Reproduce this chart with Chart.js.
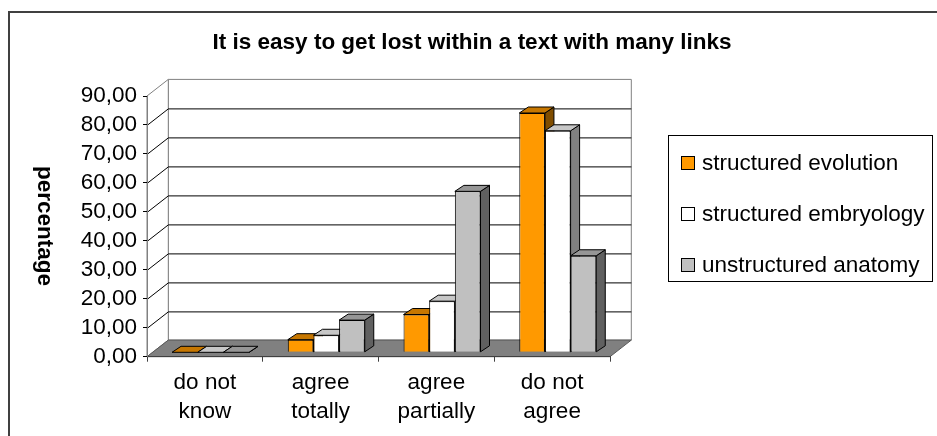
<!DOCTYPE html>
<html>
<head>
<meta charset="utf-8">
<script src="https://cdn.jsdelivr.net/npm/chart.js@4/dist/chart.umd.min.js"></script>
<style>
  html, body { margin: 0; padding: 0; background: #fff; }
  #wrap { width: 937px; height: 436px; position: relative; }
</style>
</head>
<body>
<div id="wrap"><canvas id="c" width="937" height="436"></canvas></div>
<script>
// Survey answers, in percent of respondents per group
const categories = [['do not', 'know'], ['agree', 'totally'], ['agree', 'partially'], ['do not', 'agree']];
const seriesNames = ['structured evolution', 'structured embryology', 'unstructured anatomy'];
const evolution = [0, 4.35, 13.04, 82.61];
const embryology = [0, 5.88, 17.65, 76.47];
const anatomy = [0, 11.11, 55.56, 33.33];
const yTicks = [0, 10, 20, 30, 40, 50, 60, 70, 80, 90];
const chartTitle = 'It is easy to get lost within a text with many links';
const yTitle = 'percentage';
const seriesColors = ['#FF9900', '#FFFFFF', '#C0C0C0'];

const FONT = "'Liberation Sans', Arial, sans-serif";
const FS = 22.5;

// Pseudo-3D geometry: depth of the floor and placement of the columns in it
const DEPTH = { dx: 21.3, dy: -16.6 };
const BAR_FRONT = 0.265;
const BAR_DEPTH = { dx: 9, dy: -6 };

function shade(hex, k) {
  const n = parseInt(hex.slice(1), 16);
  const r = Math.round(((n >> 16) & 255) * k);
  const g = Math.round(((n >> 8) & 255) * k);
  const b = Math.round((n & 255) * k);
  return `rgb(${r},${g},${b})`;
}

function poly(ctx, pts, fill, stroke) {
  ctx.beginPath();
  ctx.moveTo(pts[0][0], pts[0][1]);
  for (let i = 1; i < pts.length; i++) ctx.lineTo(pts[i][0], pts[i][1]);
  ctx.closePath();
  if (fill) { ctx.fillStyle = fill; ctx.fill(); }
  if (stroke) { ctx.strokeStyle = stroke; ctx.lineWidth = 1; ctx.stroke(); }
}

// Walls, floor and gridlines behind everything
const walls3d = {
  id: 'walls3d',
  beforeDraw(chart) {
    const { ctx, chartArea: a, scales: { y } } = chart;
    const L = a.left, R = a.right, T = a.top, B = a.bottom;
    const dx = DEPTH.dx, dy = DEPTH.dy;
    ctx.save();
    // outer frame
    ctx.strokeStyle = '#404040';
    ctx.lineWidth = 2;
    ctx.beginPath();
    ctx.moveTo(9, 440); ctx.lineTo(9, 12); ctx.lineTo(940, 12);
    ctx.stroke();
    // back wall and side wall
    poly(ctx, [[L + dx, T + dy], [R + dx, T + dy], [R + dx, B + dy], [L + dx, B + dy]], '#fff', '#808080');
    poly(ctx, [[L, T], [L + dx, T + dy], [L + dx, B + dy], [L, B]], '#fff', '#808080');
    // gridlines on both walls
    ctx.strokeStyle = '#000';
    ctx.lineWidth = 1;
    yTicks.forEach(v => {
      if (v === yTicks[0] || v === yTicks[yTicks.length - 1]) return;
      const py = Math.round(y.getPixelForValue(v)) + 0.5;
      ctx.beginPath();
      ctx.moveTo(L, py);
      ctx.lineTo(L + dx, py + dy);
      ctx.lineTo(R + dx, py + dy);
      ctx.stroke();
    });
    // floor
    poly(ctx, [[L, B], [L + dx, B + dy], [R + dx, B + dy], [R, B]], '#808080', '#595959');
    ctx.restore();
  }
};

// Top and side faces of each column; front faces are the chart's own bars
const columns3d = {
  id: 'columns3d',
  beforeDatasetsDraw(chart) {
    const { ctx } = chart;
    ctx.save();
    ctx.translate(DEPTH.dx * BAR_FRONT, DEPTH.dy * BAR_FRONT);
    const bdx = BAR_DEPTH.dx, bdy = BAR_DEPTH.dy;
    const n = chart.data.labels.length;
    for (let i = 0; i < n; i++) {
      chart.data.datasets.forEach((ds, d) => {
        const el = chart.getDatasetMeta(d).data[i];
        const { x, y, base, width } = el.getProps(['x', 'y', 'base', 'width'], true);
        const l = x - width / 2, r = x + width / 2;
        const col = ds.backgroundColor;
        poly(ctx, [[r, y], [r + bdx, y + bdy], [r + bdx, base + bdy], [r, base]], shade(col, 0.5), '#000');
        poly(ctx, [[l, y], [l + bdx, y + bdy], [r + bdx, y + bdy], [r, y]], shade(col, 0.78), '#000');
      });
    }
  },
  afterDatasetsDraw(chart) {
    chart.ctx.restore();
  }
};

// Title, axis title and boxed legend
const annotations = {
  id: 'annotations',
  afterDraw(chart) {
    const { ctx } = chart;
    ctx.save();
    ctx.fillStyle = '#000';
    ctx.font = `bold ${FS}px ${FONT}`;
    ctx.textAlign = 'center';
    ctx.textBaseline = 'alphabetic';
    ctx.fillText(chartTitle, 472, 49);

    ctx.save();
    ctx.translate(44, 226);
    ctx.rotate(Math.PI / 2);
    ctx.textBaseline = 'middle';
    ctx.fillText(yTitle, 0, 0);
    ctx.restore();

    ctx.strokeStyle = '#000';
    ctx.lineWidth = 1;
    ctx.strokeRect(668.5, 135.5, 264, 146);
    ctx.font = `${FS}px ${FONT}`;
    ctx.textAlign = 'left';
    chart.data.datasets.forEach((ds, i) => {
      const base = 170 + i * 51;
      ctx.fillStyle = ds.backgroundColor;
      ctx.fillRect(681, base - 13, 13, 13);
      ctx.strokeRect(681.5, base - 13.5, 13, 13);
      ctx.fillStyle = '#000';
      ctx.fillText(ds.label, 702, base);
    });
    ctx.restore();
  }
};

const seriesValues = [evolution, embryology, anatomy];

new Chart(document.getElementById('c'), {
  type: 'bar',
  data: {
    labels: categories,
    datasets: seriesNames.map((name, i) => ({
      label: name,
      data: seriesValues[i],
      backgroundColor: seriesColors[i],
      borderColor: '#000',
      borderWidth: 1,
      categoryPercentage: 0.665,
      barPercentage: 1.0
    }))
  },
  options: {
    responsive: false,
    animation: false,
    devicePixelRatio: 1,
    layout: { padding: { left: 0, top: 96, right: 327, bottom: 0 } },
    plugins: {
      legend: { display: false },
      title: { display: false },
      tooltip: { enabled: false }
    },
    scales: {
      x: {
        afterFit: s => { s.height = 79.3; },
        grid: { drawOnChartArea: false, drawTicks: true, tickLength: 5, color: '#404040', offset: true },
        border: { color: '#404040' },
        ticks: { color: '#000', padding: 6, maxRotation: 0, autoSkip: false, font: { family: FONT, size: FS, lineHeight: 1.3 } }
      },
      y: {
        min: 0,
        max: 90,
        afterFit: s => { s.width = 147; },
        afterBuildTicks: s => { s.ticks = yTicks.map(v => ({ value: v })); },
        grid: { drawOnChartArea: false, drawTicks: true, tickLength: 4, color: '#000' },
        border: { color: '#808080' },
        ticks: {
          color: '#000',
          padding: 6,
          autoSkip: false,
          font: { family: FONT, size: FS },
          callback: v => v.toFixed(2).replace('.', ',')
        }
      }
    }
  },
  plugins: [walls3d, columns3d, annotations]
});
</script>
</body>
</html>
